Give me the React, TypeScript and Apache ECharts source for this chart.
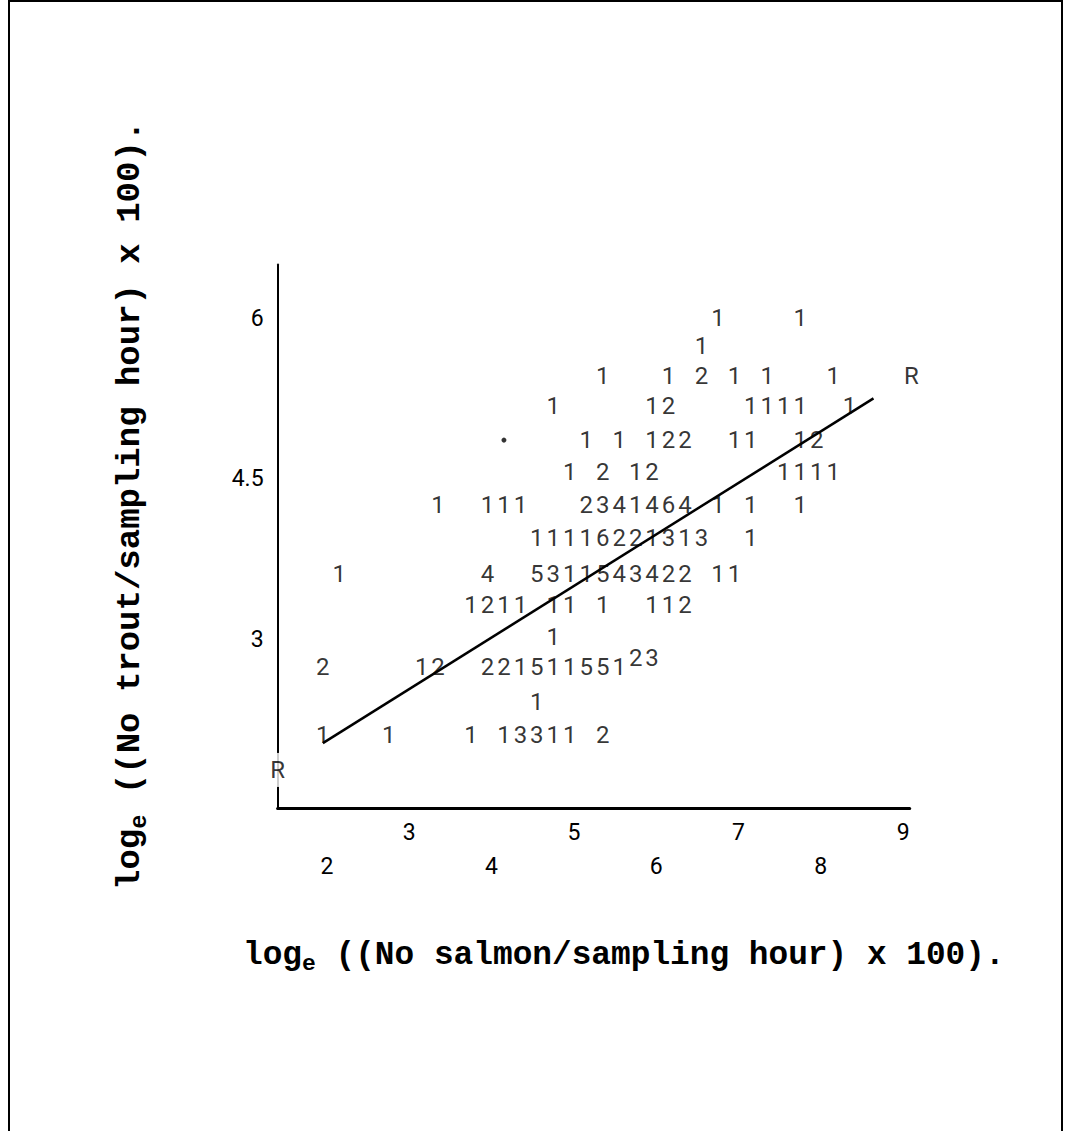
import React, { useEffect, useRef } from "react";
import * as echarts from "echarts";

// ---- data ----
// y level of each printed row
const rowY = [6.0, 5.74, 5.46, 5.18, 4.86, 4.56, 4.25, 3.95, 3.61, 3.32, 3.02, 2.74, 2.41, 2.11];
// [x, count] cells per row
const row1 = [[6.75, 1], [7.75, 1]];
const row2 = [[6.55, 1]];
const row3 = [[5.35, 1], [6.15, 1], [6.55, 2], [6.95, 1], [7.35, 1], [8.15, 1]];
const row4 = [[4.75, 1], [5.95, 1], [6.15, 2], [7.15, 1], [7.35, 1], [7.55, 1], [7.75, 1], [8.35, 1]];
const row5 = [[5.15, 1], [5.55, 1], [5.95, 1], [6.15, 2], [6.35, 2], [6.95, 1], [7.15, 1], [7.75, 1], [7.95, 2]];
const row6 = [[4.95, 1], [5.35, 2], [5.75, 1], [5.95, 2], [7.55, 1], [7.75, 1], [7.95, 1], [8.15, 1]];
const row7 = [[3.35, 1], [3.95, 1], [4.15, 1], [4.35, 1], [5.15, 2], [5.35, 3], [5.55, 4], [5.75, 1], [5.95, 4], [6.15, 6], [6.35, 4], [6.75, 1], [7.15, 1], [7.75, 1]];
const row8 = [[4.55, 1], [4.75, 1], [4.95, 1], [5.15, 1], [5.35, 6], [5.55, 2], [5.75, 2], [5.95, 1], [6.15, 3], [6.35, 1], [6.55, 3], [7.15, 1]];
const row9 = [[2.15, 1], [3.95, 4], [4.55, 5], [4.75, 3], [4.95, 1], [5.15, 1], [5.35, 5], [5.55, 4], [5.75, 3], [5.95, 4], [6.15, 2], [6.35, 2], [6.75, 1], [6.95, 1]];
const row10 = [[3.75, 1], [3.95, 2], [4.15, 1], [4.35, 1], [4.75, 1], [4.95, 1], [5.35, 1], [5.95, 1], [6.15, 1], [6.35, 2]];
const row11 = [[4.75, 1]];
const row12 = [[1.95, 2], [3.15, 1], [3.35, 2], [3.95, 2], [4.15, 2], [4.35, 1], [4.55, 5], [4.75, 1], [4.95, 1], [5.15, 5], [5.35, 5], [5.55, 1]];
const row13 = [[4.55, 1]];
const row14 = [[1.95, 1], [2.75, 1], [3.75, 1], [4.15, 1], [4.35, 3], [4.55, 3], [4.75, 1], [4.95, 1], [5.35, 2]];
const rowCells = [row1, row2, row3, row4, row5, row6, row7, row8, row9, row10, row11, row12, row13, row14];
// overprinted (raised) cells at the end of row 12
const raisedY = 2.83;
const raisedCells = [[5.75, 2], [5.95, 3]];
// stray printed dot
const dotCells = [[4.15, 4.86]];
// regression line ends and its "R" markers
const regLine = [[1.95, 2.03], [8.64, 5.25]];
const regMarks = [[1.4, 1.78], [9.1, 5.46]];

// axis ticks
const xTicksUpper = [3, 5, 7, 9];
const xTicksLower = [2, 4, 6, 8];
const yTicks = [3, 4.5, 6];

const xTitle = " ((No salmon/sampling hour) x 100).";
const yTitle = " ((No trout/sampling hour) x 100).";

const DIGIT_FONT = "'Liberation Sans Narrow', Roboto, sans-serif";
const TITLE_FONT = "'Liberation Mono', 'DejaVu Sans Mono', monospace";

function titleGroup(x: number, y: number, rest: string, rotation: number, size: number) {
  const cw = size * 0.6;
  const sub = size * 0.7;
  return {
    type: "group",
    x,
    y,
    rotation,
    children: [
      { type: "text", x: 0, y: 0, style: { text: "log", fontSize: size, fontFamily: TITLE_FONT, fontWeight: "bold", fill: "#000", verticalAlign: "middle" } },
      { type: "text", x: cw * 3, y: size * 0.28, style: { text: "e", fontSize: sub, fontFamily: TITLE_FONT, fontWeight: "bold", fill: "#000", verticalAlign: "middle" } },
      { type: "text", x: cw * 3 + sub * 0.6, y: 0, style: { text: rest, fontSize: size, fontFamily: TITLE_FONT, fontWeight: "bold", fill: "#000", verticalAlign: "middle" } },
    ],
  };
}

export default function App() {
  const ref = useRef<HTMLDivElement>(null);
  useEffect(() => {
    if (!ref.current) return;
    const chart = echarts.init(ref.current, undefined, { renderer: "svg" });

    const cellData: any[] = [];
    rowCells.forEach((cells, i) => {
      cells.forEach(([x, n]) => cellData.push({ value: [x, rowY[i]], name: String(n) }));
    });
    raisedCells.forEach(([x, n]) => cellData.push({ value: [x, raisedY], name: String(n) }));

    const labelStyle = {
      show: true,
      position: "inside",
      formatter: "{b}",
      color: "#000",
      fontSize: 24,
      fontFamily: DIGIT_FONT,
    };

    const xAxisBase = {
      type: "value",
      min: 1.4,
      max: 9.08,
      position: "bottom",
      axisTick: { show: false },
      splitLine: { show: false },
    };

    chart.setOption({
      animation: false,
      backgroundColor: "#fff",
      grid: { left: 277.6, top: 264.5, width: 632.1, height: 544, containLabel: false },
      xAxis: [
        {
          ...xAxisBase,
          axisLine: { show: true, lineStyle: { color: "#000", width: 3 } },
          axisLabel: { customValues: xTicksUpper, margin: 12, color: "#000", fontSize: 23, fontFamily: DIGIT_FONT },
        },
        {
          ...xAxisBase,
          offset: 0,
          axisLine: { show: false },
          axisLabel: { customValues: xTicksLower, margin: 46, color: "#000", fontSize: 23, fontFamily: DIGIT_FONT },
        },
      ],
      yAxis: {
        type: "value",
        min: 1.42,
        max: 6.5,
        axisLine: { show: true, lineStyle: { color: "#000", width: 2 } },
        axisTick: { show: false },
        splitLine: { show: false },
        axisLabel: {
          customValues: yTicks,
          formatter: (v: number) => String(v),
          margin: 14,
          color: "#000",
          fontSize: 23,
          fontFamily: DIGIT_FONT,
        },
      },
      series: [
        {
          type: "line",
          data: regLine,
          symbol: "none",
          lineStyle: { color: "#000", width: 2.5 },
          z: 3,
          silent: true,
        },
        {
          type: "scatter",
          data: cellData,
          symbolSize: 1,
          itemStyle: { color: "rgba(0,0,0,0)" },
          label: labelStyle,
          clip: false,
          z: 4,
        },
        {
          type: "scatter",
          data: dotCells,
          symbol: "circle",
          symbolSize: 5,
          itemStyle: { color: "#000" },
          clip: false,
          z: 4,
        },
        {
          type: "scatter",
          data: regMarks.map(([x, y]) => ({ value: [x, y], name: "R" })),
          symbolSize: 1,
          itemStyle: { color: "rgba(0,0,0,0)" },
          label: { ...labelStyle, formatter: "R", backgroundColor: "#fff", padding: [5, 2] },
          clip: false,
          z: 5,
        },
      ],
      graphic: [
        {
          type: "rect",
          shape: { x: 9, y: 1, width: 1053, height: 1150 },
          style: { fill: "none", stroke: "#000", lineWidth: 2 },
          silent: true,
        },
        titleGroup(243, 955, xTitle, 0, 32.8),
        titleGroup(130, 890, yTitle, Math.PI / 2, 34),
      ],
    });
    return () => chart.dispose();
  }, []);

  return (
    <div
      ref={ref}
      style={{ position: "fixed", left: 0, top: 0, width: 1065, height: 1131, background: "#fff" }}
    />
  );
}
